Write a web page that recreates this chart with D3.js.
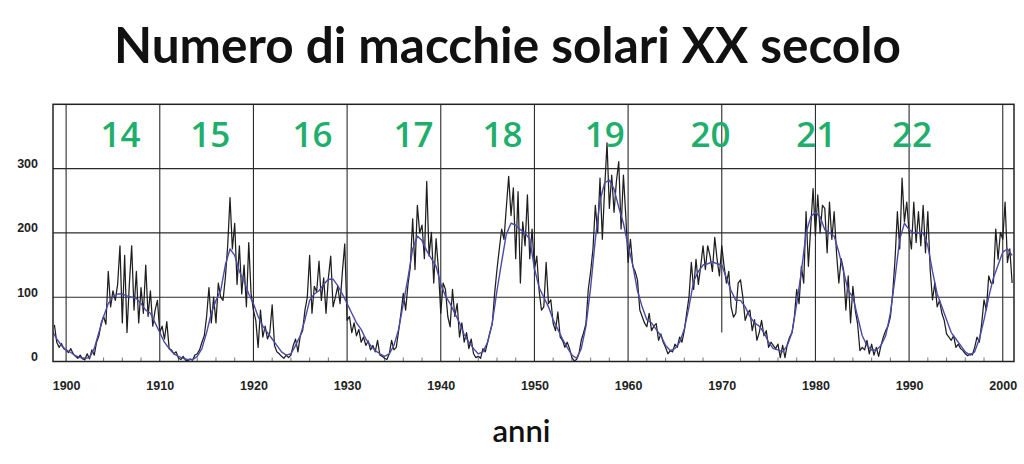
<!DOCTYPE html>
<html><head><meta charset="utf-8">
<script src="https://cdn.jsdelivr.net/npm/d3@7"></script>
<style>body{margin:0;background:#fff} svg{display:block}</style>
</head><body><svg id="c" width="1024" height="464"></svg>
<script>
const title = "Numero di macchie solari XX secolo";
const xLabel = "anni";
const xTicks = [1900,1910,1920,1930,1940,1950,1960,1970,1980,1990,2000];
const yTicks = [0,100,200,300];
const cycleNames = ["14","15","16","17","18","19","20","21","22"];
const cycleYears = [1905.8,1915.4,1926.3,1937.1,1946.6,1957.5,1968.8,1980.1,1990.3];

// black series: quarterly values starting at 1898.75
const monthlyStart = 1898.75, monthlyStep = 0.25;
const monthlyValues = [
57,
30,22,28,20, 18,14,20,12, 8,5,10,4, 3,12,4,18, 10,30,40,60,
70,58,140,85, 110,95,120,180, 60,165,45,120, 180,80,140,60, 115,75,150,70,
110,55,80,95, 45,55,35,62, 20,18,12,15, 5,3,8,2, 1,4,2,10,
12,18,30,40, 70,115,60,100, 60,122,100,95, 130,180,255,175, 215,120,180,105,
150,85,185,105, 80,64,22,80, 38,55,35,45, 88,25,15,12, 8,5,10,6,
10,25,35,15, 40,48,80,100, 165,75,117,108, 156,95,130,75, 130,164,85,100,
117,90,140,183, 64,70,45,60, 40,50,30,38, 25,32,18,25, 15,33,10,8,
5,3,12,33, 18,22,48,75, 106,80,120,148, 222,143,243,200, 212,160,280,164,
201,122,191,143, 75,122,112,70, 54,112,70,90, 38,60,30,45, 20,35,12,6,
8,5,20,15, 30,45,59,106, 143,175,206,190, 240,288,227,270, 160,264,122,217,
180,259,160,206, 143,164,110,80, 85,154,90,96, 59,48,77,38, 33,22,30,20,
6,1,3,12, 33,45,59,112, 140,175,243,200, 285,190,270,340, 238,290,232,280,
311,206,290,227, 154,190,148,140, 127,80,70,60, 54,75,48,55, 59,33,43,30,
22,12,17,15, 27,22,38,30, 48,75,100,154, 112,159,120,148, 180,143,180,164,
140,193,159,133, 180,148,122,140, 85,69,75,122, 127,100,64,75, 80,48,65,33,
45,64,40,48, 22,30,25,20, 27,6,25,6, 27,38,45,69, 112,90,148,122,
233,148,210,269, 196,259,200,243, 238,169,248,190, 233,169,122,160, 143,80,133,60,
117,80,59,17, 22,18,33,12, 27,10,22,8, 25,38,48,55, 69,106,159,233,
175,285,217,248, 201,175,248,185, 233,180,243,169, 233,143,96,122, 85,95,75,64,
43,38,33,40, 22,27,20,17, 12,9,12,10, 22,38,30,59, 96,80,133,122,
122,206,159,201, 190,248,154,175,
122
];

// blue series: smoothed values every half year starting at 1898.5
const smoothStart = 1898.5, smoothStep = 0.5;
const smoothValues = [
48,
35,25, 18,14, 9,6, 5,6, 20,45, 70,90, 100,105, 105,102, 100,98, 90,80,
75,60, 45,30, 20,12, 8,5, 3,3, 8,20, 45,75, 95,110, 150,175, 165,140,
125,105, 90,70, 55,45, 35,25, 15,10, 12,25, 40,65, 95,105, 110,120, 128,128,
118,105, 90,75, 60,50, 35,25, 17,12, 8,12, 25,50, 90,130, 175,195, 188,172,
160,148, 120,102, 90,75, 60,42, 30,20, 12,15, 30,60, 110,155, 198,215, 212,205,
200,190, 145,115, 100,85, 65,50, 35,22, 10,5, 20,55, 115,190, 250,278, 282,268,
240,215, 180,150, 110,85, 65,60, 50,40, 25,17, 20,30, 50,85, 125,140, 150,152,
155,152, 150,130, 110,95, 95,85, 70,60, 55,45, 30,20, 18,15, 25,45, 90,140,
200,225, 232,225, 205,200, 195,170, 140,110, 100,70, 40,25, 18,18, 25,40, 75,130,
190,215, 205,200, 200,200, 180,140, 105,85, 65,45, 35,25, 15,10, 15,35, 65,100,
130,150, 170,175,
165
];

const svg = d3.select("#c");
const x = d3.scaleLinear().domain([1898.6, 2001.2]).range([53, 1014]);
const y = d3.scaleLinear().domain([0, 400]).range([361.5, 104.3]);
const [x0, x1] = x.range(), [yb, yt] = y.range();

svg.append("defs").append("clipPath").attr("id","clip")
  .append("rect").attr("x",x0).attr("y",yt).attr("width",x1-x0).attr("height",yb-yt);

// title
svg.append("text").attr("x",507.5).attr("y",63).attr("text-anchor","middle")
  .style("font-family","Lato, 'Open Sans', sans-serif").style("font-weight","700")
  .style("font-size","49.5px").attr("fill","#111").text(title);

// grid
const grid = svg.append("g").attr("stroke","#2b2b2b").attr("stroke-width",1.1);
grid.selectAll("line.v").data(xTicks).join("line").attr("class","v")
  .attr("x1",d=>x(d)).attr("x2",d=>x(d)).attr("y1",yt).attr("y2",d=> d===1970 ? y(45) : yb);
grid.selectAll("line.h").data(yTicks.filter(d=>d>0)).join("line").attr("class","h")
  .attr("x1",x0).attr("x2",x1).attr("y1",d=>y(d)).attr("y2",d=>y(d));
// minor ticks
const minor = d3.range(1900, 2001, 2).filter(d=>d%10!==0);
svg.append("g").attr("stroke","#555").attr("stroke-width",0.8)
  .selectAll("line").data(minor).join("line")
  .attr("x1",d=>x(d)).attr("x2",d=>x(d)).attr("y1",yb).attr("y2",yb-4);

// series
const mData = monthlyValues.map((v,i)=>[monthlyStart+i*monthlyStep, v]);
const sData = smoothValues.map((v,i)=>[smoothStart+i*smoothStep, v]);
const line = d3.line().x(d=>x(d[0])).y(d=>y(d[1]));
const plot = svg.append("g").attr("clip-path","url(#clip)");
plot.append("path").datum(mData).attr("d",line).attr("fill","none")
  .attr("stroke","#1e1e1e").attr("stroke-width",1.25).attr("stroke-linejoin","round");
plot.append("path").datum(sData).attr("d",line).attr("fill","none")
  .attr("stroke","#4a4aa8").attr("stroke-width",1.4).attr("stroke-linejoin","round");

// frame
svg.append("rect").attr("x",x0).attr("y",yt).attr("width",x1-x0).attr("height",yb-yt)
  .attr("fill","none").attr("stroke","#222").attr("stroke-width",1.5);

// axes labels
const tickFont = sel => sel.selectAll("text").style("font-family","'Liberation Sans', Arial, sans-serif")
  .style("font-weight","700").style("font-size","12.5px").attr("fill","#222");
const xa = svg.append("g").attr("transform",`translate(0,${yb})`)
  .call(d3.axisBottom(x).tickValues(xTicks).tickSize(0).tickPadding(19.5).tickFormat(d3.format("d")));
xa.select(".domain").remove(); tickFont(xa);
const ya = svg.append("g").attr("transform",`translate(38,0)`)
  .call(d3.axisLeft(y).tickValues(yTicks).tickSize(0).tickPadding(0));
ya.select(".domain").remove(); tickFont(ya); ya.selectAll("text").attr("dy","-1px");

// cycle numbers
svg.append("g").selectAll("text").data(cycleNames).join("text")
  .attr("x",(d,i)=>x(cycleYears[i])).attr("y",y(334)).attr("text-anchor","middle")
  .style("font-family","'Open Sans', sans-serif").style("font-weight","600").style("font-size","35px")
  .attr("fill","#1fae6c").text(d=>d);

// x label
svg.append("text").attr("x",521.5).attr("y",442).attr("text-anchor","middle")
  .style("font-family","Lato, sans-serif").style("font-weight","600").style("font-size","31px")
  .attr("fill","#111").text(xLabel);
</script></body></html>
